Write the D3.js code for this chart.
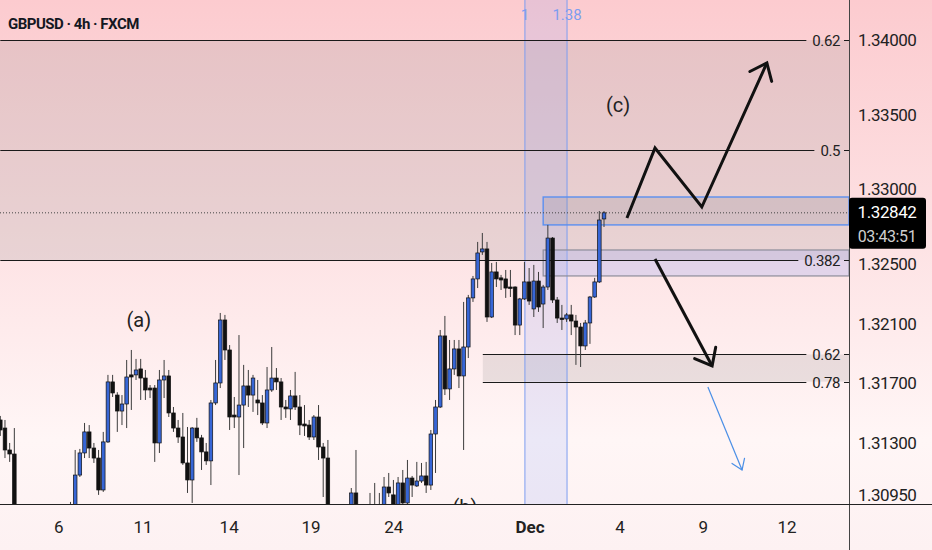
<!DOCTYPE html>
<html>
<head>
<meta charset="utf-8">
<script src="https://cdn.jsdelivr.net/npm/d3@7"></script>
<style>
  html, body { margin: 0; padding: 0; background: #fff; }
  svg { display: block; }
  text { font-family: Roboto, "Noto Sans", sans-serif; }
</style>
</head>
<body>
<div id="chart"></div>
<script>
// ---- data (4h candles) ----
const candleOpen = [
  1.31454,1.31400,1.31253,1.31226,1.30851,1.30717,1.30616,1.30683,1.30583,1.30650,
  1.30596,1.30717,1.30663,1.30750,1.30784,1.30730,1.30817,1.31085,1.31233,1.31374,
  1.31266,1.31199,1.30985,1.31307,1.31709,1.31621,1.31514,1.31561,1.31756,1.31756,
  1.31796,1.31735,1.31668,1.31668,1.31300,1.31722,1.31749,1.31501,1.31400,1.31340,
  1.31166,1.31052,1.31400,1.31334,1.31240,1.31180,1.31568,1.31702,1.32124,1.31923,
  1.31487,1.31474,1.31554,1.31682,1.31621,1.31588,1.31568,1.31434,1.31655,1.31735,
  1.31709,1.31541,1.31528,1.31615,1.31541,1.31427,1.31420,1.31340,1.31474,1.31273,
  1.31199,1.30851,1.30750,1.30683,1.30784,1.30838,1.30965,1.30851,1.30817,1.30851,
  1.30878,1.30851,1.30884,1.31005,1.30952,1.30884,1.31032,1.30898,1.31065,1.31012,
  1.31045,1.31079,1.31018,1.31360,1.31541,1.32017,1.31662,1.31796,1.31930,1.31749,
  1.31943,1.32272,1.32399,1.32580,1.32600,1.32144,1.32446,1.32406,1.32399,1.32345,
  1.32345,1.32090,1.32265,1.32379,1.32198,1.32385,1.32231,1.32345,1.32673,1.32258,
  1.32137,1.32131,1.32158,1.32117,1.32077,1.31950,1.32104,1.32278,1.32379,1.32801
];
const candleHigh = [
  1.31481,1.31454,1.31300,1.31400,1.30884,1.30784,1.30750,1.30717,1.30683,1.30704,
  1.30784,1.30771,1.30818,1.30838,1.30851,1.30905,1.31253,1.31260,1.31434,1.31420,
  1.31300,1.31253,1.31374,1.31756,1.31756,1.31640,1.31621,1.31856,1.31923,1.31863,
  1.31863,1.31789,1.31688,1.31688,1.31789,1.31856,1.31789,1.31541,1.31454,1.31501,
  1.31407,1.31407,1.31468,1.31354,1.31300,1.31588,1.31856,1.32171,1.32158,1.31956,
  1.31608,1.32023,1.31823,1.31789,1.31756,1.31722,1.31621,1.31809,1.31943,1.31802,
  1.31735,1.31588,1.31655,1.31776,1.31621,1.31554,1.31454,1.31487,1.31554,1.31300,
  1.31320,1.30884,1.30817,1.30838,1.30864,1.30998,1.31253,1.30884,1.30878,1.30965,
  1.31032,1.30965,1.31072,1.31099,1.31052,1.31072,1.31119,1.31186,1.31079,1.31173,
  1.31166,1.31173,1.31387,1.31588,1.32057,1.32151,1.31990,1.31990,1.31990,1.32245,
  1.32292,1.32419,1.32647,1.32707,1.32647,1.32506,1.32513,1.32426,1.32459,1.32459,
  1.32350,1.32272,1.32513,1.32472,1.32493,1.32446,1.32359,1.32761,1.32680,1.32278,
  1.32225,1.32171,1.32225,1.32158,1.32104,1.32124,1.32285,1.32406,1.32854,1.32854
];
const candleLow = [
  1.31347,1.31199,1.31173,1.30817,1.30683,1.30549,1.30516,1.30529,1.30482,1.30543,
  1.30570,1.30616,1.30630,1.30697,1.30683,1.30704,1.30784,1.31072,1.31199,1.31199,
  1.31166,1.30952,1.30972,1.31300,1.31608,1.31374,1.31420,1.31400,1.31521,1.31722,
  1.31588,1.31588,1.31601,1.31173,1.31233,1.31601,1.31474,1.31374,1.31300,1.31153,
  1.30965,1.30898,1.31307,1.31119,1.31153,1.31018,1.31554,1.31668,1.31856,1.31387,
  1.31400,1.31085,1.31266,1.31541,1.31508,1.31487,1.31420,1.31400,1.31642,1.31655,
  1.31454,1.31468,1.31454,1.31521,1.31353,1.31347,1.31320,1.31320,1.31186,1.30938,
  1.30784,1.30717,1.30616,1.30650,1.30730,1.30817,1.30817,1.30750,1.30771,1.30817,
  1.30817,1.30838,1.30864,1.30938,1.30851,1.30871,1.30878,1.30884,1.30938,1.31005,
  1.31032,1.30965,1.30985,1.31099,1.31534,1.31621,1.31588,1.31756,1.31668,1.31253,
  1.31869,1.32245,1.32338,1.32560,1.32111,1.32137,1.32345,1.32325,1.32272,1.32278,
  1.32023,1.32023,1.32258,1.32225,1.32144,1.32178,1.32070,1.32325,1.32238,1.32104,
  1.32057,1.32111,1.32023,1.31823,1.31809,1.31923,1.31964,1.32272,1.32372,1.32747
];
const candleClose = [
  1.31387,1.31253,1.31226,1.30851,1.30717,1.30616,1.30683,1.30583,1.30650,1.30596,
  1.30717,1.30663,1.30750,1.30784,1.30730,1.30817,1.31085,1.31233,1.31374,1.31266,
  1.31199,1.30985,1.31307,1.31709,1.31635,1.31514,1.31561,1.31742,1.31742,1.31789,
  1.31735,1.31655,1.31655,1.31300,1.31722,1.31749,1.31501,1.31400,1.31340,1.31166,
  1.31052,1.31400,1.31334,1.31240,1.31180,1.31568,1.31702,1.32124,1.31923,1.31474,
  1.31474,1.31554,1.31682,1.31621,1.31735,1.31568,1.31434,1.31655,1.31735,1.31709,
  1.31541,1.31528,1.31615,1.31541,1.31420,1.31414,1.31340,1.31474,1.31273,1.31199,
  1.30851,1.30750,1.30683,1.30784,1.30838,1.30965,1.30851,1.30817,1.30851,1.30878,
  1.30851,1.30884,1.31005,1.30965,1.30884,1.31032,1.30898,1.31065,1.31018,1.31045,
  1.31079,1.31018,1.31360,1.31541,1.32017,1.31662,1.31796,1.31930,1.31749,1.31943,
  1.32272,1.32399,1.32573,1.32600,1.32144,1.32446,1.32399,1.32392,1.32338,1.32338,
  1.32090,1.32265,1.32379,1.32251,1.32385,1.32211,1.32345,1.32673,1.32258,1.32137,
  1.32131,1.32158,1.32117,1.32077,1.31950,1.32104,1.32278,1.32379,1.32794,1.32842
];

const priceTicks = [1.34, 1.335, 1.33, 1.325, 1.321, 1.317, 1.313, 1.3095];
const dateLabels = ["6", "11", "14", "19", "24", "Dec", "4", "9", "12"];
const dateIdx = [12.5, 30.5, 48.9, 66.4, 84.1, 113.2, 132.4, 150.2, 168.1];

// fib retracement levels
const upperFibLabels = ["0.62", "0.5", "0.382"];
const upperFibPrices = [1.34, 1.33263, 1.32526];
const lowerFibLabels = ["0.62", "0.78"];
const lowerFibPrices = [1.31893, 1.31711];
const lowerFibStart = 103.1;

// fib time zones
const timeZoneLabels = ["1", "1.38"];
const timeZoneIdx = [112.1, 121.1];

// zones (start index, top, bottom)
const zoneStart = [116, 116];
const zoneTop = [1.32948, 1.32593];
const zoneBottom = [1.32761, 1.32419];

// drawings
const zigzagIdx = [133.9, 139.9, 149.9, 163.8];
const zigzagPrice = [1.32807, 1.33276, 1.32881, 1.33846];
const downArrowIdx = [139.9, 152.1];
const downArrowPrice = [1.32533, 1.31816];
const blueArrowIdx = [151.2, 158.5];
const blueArrowPrice = [1.31675, 1.31119];
const waveLabels = ["(a)", "(b)", "(c)"];
const waveIdx = [29.6, 99.3, 132];
const wavePrice = [1.32124, 1.30871, 1.33565];

const lastPrice = 1.32842;
const countdown = "03:43:51";
const title = "GBPUSD · 4h · FXCM";

// ---- layout ----
const W = 932, H = 550;
const PLOT_R = 849, PLOT_B = 504;

const x = d3.scaleLinear().domain([0, 181.35]).range([0.3, PLOT_R]);
const y = d3.scaleLinear().domain([1.30891, 1.34268]).range([PLOT_B, 0]);

const svg = d3.select("#chart").append("svg")
  .attr("width", W).attr("height", H);

const defs = svg.append("defs");
const grad = defs.append("linearGradient")
  .attr("id", "bg").attr("x1", 0).attr("y1", 0).attr("x2", 0).attr("y2", 1);
grad.append("stop").attr("offset", "0%").attr("stop-color", "#fccbcf");
grad.append("stop").attr("offset", "40%").attr("stop-color", "#fde0e2");
grad.append("stop").attr("offset", "80%").attr("stop-color", "#fff6f6");
grad.append("stop").attr("offset", "100%").attr("stop-color", "#fdf1f2");

defs.append("clipPath").attr("id", "plot-clip")
  .append("rect").attr("x", 0).attr("y", 0).attr("width", PLOT_R).attr("height", PLOT_B);

svg.append("rect").attr("width", W).attr("height", H).attr("fill", "url(#bg)");

const plot = svg.append("g").attr("clip-path", "url(#plot-clip)");

// upper fib shading
plot.append("rect")
  .attr("x", 0).attr("width", PLOT_R)
  .attr("y", y(upperFibPrices[0]))
  .attr("height", y(upperFibPrices[2]) - y(upperFibPrices[0]))
  .attr("fill", "rgba(166,160,160,0.24)");

// lower fib shading
plot.append("rect")
  .attr("x", x(lowerFibStart)).attr("width", PLOT_R - x(lowerFibStart))
  .attr("y", y(lowerFibPrices[0]))
  .attr("height", y(lowerFibPrices[1]) - y(lowerFibPrices[0]))
  .attr("fill", "rgba(150,145,145,0.2)");

// time zone band
plot.append("rect")
  .attr("x", x(timeZoneIdx[0])).attr("width", x(timeZoneIdx[1]) - x(timeZoneIdx[0]))
  .attr("y", 0).attr("height", PLOT_B)
  .attr("fill", "rgba(90,130,255,0.12)");
plot.selectAll(".tz").data(timeZoneIdx).join("line")
  .attr("x1", d => x(d)).attr("x2", d => x(d))
  .attr("y1", 0).attr("y2", PLOT_B)
  .attr("stroke", "#7d9df0").attr("stroke-width", 1);
plot.selectAll(".tzl").data(timeZoneLabels).join("text")
  .attr("x", (d, i) => x(timeZoneIdx[i]))
  .attr("y", 15)
  .attr("text-anchor", "middle").attr("dominant-baseline", "central")
  .attr("font-size", 15).attr("fill", "#7d9df0")
  .text(d => d);

// zone boxes
plot.append("rect")
  .attr("x", x(zoneStart[1])).attr("width", PLOT_R - x(zoneStart[1]))
  .attr("y", y(zoneTop[1])).attr("height", y(zoneBottom[1]) - y(zoneTop[1]))
  .attr("fill", "rgba(175,180,240,0.35)").attr("stroke", "#8d8d9a").attr("stroke-width", 1.2);
plot.append("rect")
  .attr("x", x(zoneStart[0])).attr("width", PLOT_R - x(zoneStart[0]))
  .attr("y", y(zoneTop[0])).attr("height", y(zoneBottom[0]) - y(zoneTop[0]))
  .attr("fill", "rgba(140,135,150,0.22)").attr("stroke", "#5b8ff0").attr("stroke-width", 1.4);

// fib lines with labels
function fibLine(price, label, startIdx) {
  const yy = Math.round(y(price)) + 0.5;
  const t = svg.append("text")
    .attr("x", 840).attr("y", yy)
    .attr("text-anchor", "end").attr("dominant-baseline", "central")
    .attr("font-size", 15).attr("letter-spacing", -0.4).attr("fill", "#222")
    .text(label);
  const w = t.node().getComputedTextLength();
  plot.append("line")
    .attr("x1", x(startIdx)).attr("x2", 840 - w - 6)
    .attr("y1", yy).attr("y2", yy)
    .attr("stroke", "#1a1a1a").attr("stroke-width", 1);
  plot.append("line")
    .attr("x1", 844).attr("x2", PLOT_R)
    .attr("y1", yy).attr("y2", yy)
    .attr("stroke", "#1a1a1a").attr("stroke-width", 1);
}
upperFibPrices.forEach((p, i) => fibLine(p, upperFibLabels[i], 0));
lowerFibPrices.forEach((p, i) => fibLine(p, lowerFibLabels[i], lowerFibStart));

// current price dotted line
plot.append("line")
  .attr("x1", 0).attr("x2", PLOT_R)
  .attr("y1", y(lastPrice)).attr("y2", y(lastPrice))
  .attr("stroke", "#444").attr("stroke-width", 1).attr("stroke-dasharray", "1,2");

// candles
const candles = candleOpen.map((o, i) => ({
  i, o, h: candleHigh[i], l: candleLow[i], c: candleClose[i]
}));
const bodyW = 3.6;
const cg = plot.append("g");
cg.selectAll(".wick").data(candles).join("line")
  .attr("x1", d => x(d.i)).attr("x2", d => x(d.i))
  .attr("y1", d => y(d.h)).attr("y2", d => y(d.l))
  .attr("stroke", "#3c3c3c").attr("stroke-width", 1);
cg.selectAll(".body").data(candles).join("rect")
  .attr("x", d => x(d.i) - bodyW / 2)
  .attr("width", bodyW)
  .attr("y", d => y(Math.max(d.o, d.c)))
  .attr("height", d => Math.max(1.5, Math.abs(y(d.o) - y(d.c))))
  .attr("fill", d => d.c >= d.o ? "#3766d6" : "#111")
  .attr("stroke", "#111").attr("stroke-width", 0.7);

// drawings
function arrowHead(g, x1, y1, x2, y2, len, ang, color, sw) {
  const a = Math.atan2(y1 - y2, x1 - x2);
  const p1 = [x2 + len * Math.cos(a + ang), y2 + len * Math.sin(a + ang)];
  const p2 = [x2 + len * Math.cos(a - ang), y2 + len * Math.sin(a - ang)];
  g.append("path")
    .attr("d", `M${p1[0]},${p1[1]}L${x2},${y2}L${p2[0]},${p2[1]}`)
    .attr("fill", "none").attr("stroke", color).attr("stroke-width", sw)
    .attr("stroke-linejoin", "miter").attr("stroke-linecap", "round");
}
const line = d3.line();
const zz = zigzagIdx.map((d, i) => [x(d), y(zigzagPrice[i])]);
plot.append("path").attr("d", line(zz))
  .attr("fill", "none").attr("stroke", "#111").attr("stroke-width", 3)
  .attr("stroke-linejoin", "miter");
arrowHead(plot, zz[2][0], zz[2][1], zz[3][0], zz[3][1], 19, 0.68, "#111", 3);

const da = downArrowIdx.map((d, i) => [x(d), y(downArrowPrice[i])]);
plot.append("path").attr("d", line(da))
  .attr("fill", "none").attr("stroke", "#111").attr("stroke-width", 3);
arrowHead(plot, da[0][0], da[0][1], da[1][0], da[1][1], 19, 0.68, "#111", 3);

const ba = blueArrowIdx.map((d, i) => [x(d), y(blueArrowPrice[i])]);
plot.append("path").attr("d", line(ba))
  .attr("fill", "none").attr("stroke", "#4a8fe6").attr("stroke-width", 1.2);
arrowHead(plot, ba[0][0], ba[0][1], ba[1][0], ba[1][1], 12, 0.6, "#4a8fe6", 1.2);

plot.selectAll(".wave").data(waveLabels).join("text")
  .attr("x", (d, i) => x(waveIdx[i])).attr("y", (d, i) => y(wavePrice[i]))
  .attr("text-anchor", "middle").attr("dominant-baseline", "central")
  .attr("font-family", "'Noto Sans', sans-serif")
  .attr("font-size", 20).attr("fill", "#222")
  .text(d => d);

// axes
svg.append("line")
  .attr("x1", PLOT_R + 0.5).attr("x2", PLOT_R + 0.5).attr("y1", 0).attr("y2", H)
  .attr("stroke", "#444").attr("stroke-width", 1);
svg.append("line")
  .attr("x1", 0).attr("x2", W).attr("y1", PLOT_B + 0.5).attr("y2", PLOT_B + 0.5)
  .attr("stroke", "#222").attr("stroke-width", 1.2);

svg.selectAll(".ytick").data(priceTicks).join("text")
  .attr("x", 858).attr("y", d => y(d))
  .attr("dominant-baseline", "central")
  .attr("font-size", 17).attr("letter-spacing", -0.5).attr("fill", "#222")
  .text(d => d.toFixed(5));

svg.selectAll(".xtick").data(dateLabels).join("text")
  .attr("x", (d, i) => x(dateIdx[i])).attr("y", 527)
  .attr("text-anchor", "middle").attr("dominant-baseline", "central")
  .attr("font-size", 17).attr("fill", "#222")
  .attr("font-weight", d => d === "Dec" ? "bold" : "normal")
  .text(d => d);

// last price label
svg.append("rect")
  .attr("x", PLOT_R).attr("y", y(lastPrice) - 15).attr("width", 77).attr("height", 51)
  .attr("rx", 3).attr("fill", "#000");
svg.append("text")
  .attr("x", PLOT_R + 38).attr("y", y(lastPrice) - 1)
  .attr("text-anchor", "middle").attr("dominant-baseline", "central")
  .attr("font-size", 17).attr("letter-spacing", -0.4).attr("fill", "#fff")
  .text(lastPrice.toFixed(5));
svg.append("text")
  .attr("x", PLOT_R + 38).attr("y", y(lastPrice) + 24)
  .attr("text-anchor", "middle").attr("dominant-baseline", "central")
  .attr("font-size", 16).attr("letter-spacing", -0.4).attr("fill", "#cfcfcf")
  .text(countdown);

// title
svg.append("text")
  .attr("x", 8).attr("y", 29)
  .attr("font-family", "'Noto Sans', sans-serif")
  .attr("font-size", 15).attr("font-weight", 700).attr("letter-spacing", -0.5)
  .attr("fill", "#131722")
  .text(title);
</script>
</body>
</html>
